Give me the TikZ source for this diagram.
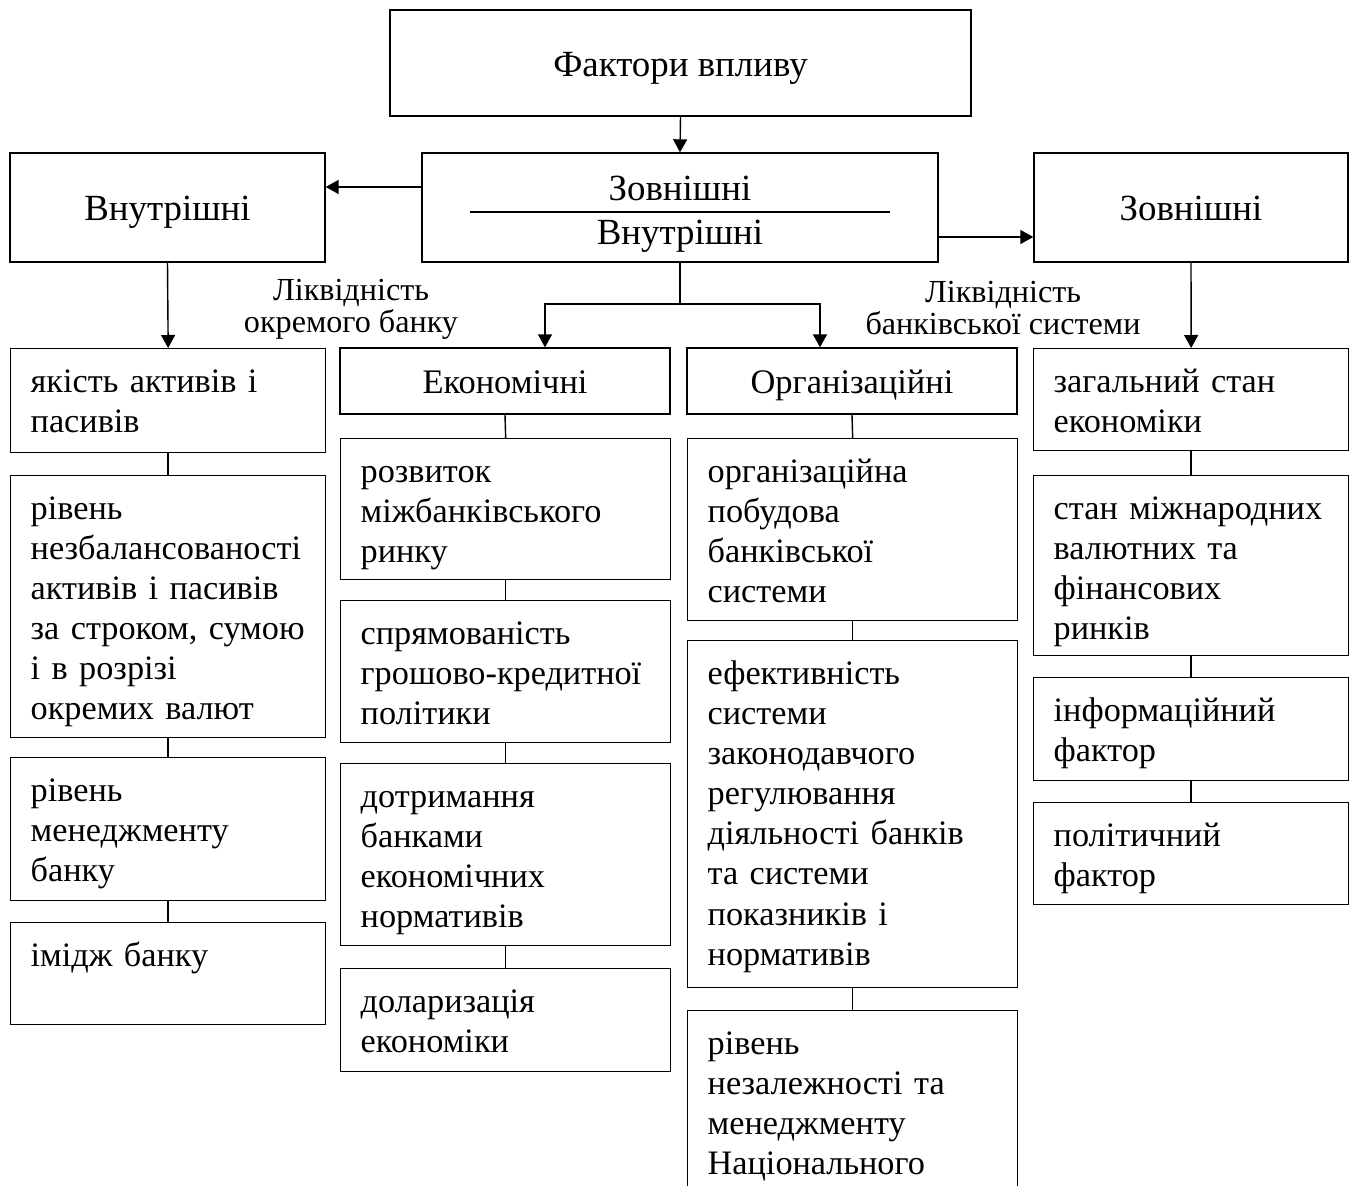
\documentclass[tikz,border=0pt]{standalone}
\usepackage{fontspec}
\setmainfont{Liberation Serif}
\usetikzlibrary{calc,arrows.meta}

\begin{document}
\begin{tikzpicture}[x=0.02cm, y=-0.02cm,
      topbox/.style={draw, line width=0.8pt, align=center,
                     font=\fontsize{21}{25}\selectfont},
      kindbox/.style={draw, line width=0.8pt, font=\fontsize{21}{25}\selectfont,
                      text height=17pt, text depth=1.8pt},
      groupbox/.style={draw, line width=0.8pt, minimum width=6.6cm, minimum height=1.32cm,
                       font=\fontsize{19.6}{22.8}\selectfont,
                       text height=16pt, text depth=1.9pt},
      itembox/.style={draw, line width=0.8pt, anchor=north west, align=left,
                      font=\fontsize{19.5}{22.8}\selectfont,
                      inner xsep=0.4cm, inner ysep=0pt, text height=0.88cm},
      lbl/.style={font=\fontsize{18.3}{18.2}\selectfont, align=center},
      arr/.style={-{Triangle[length=0.26cm, width=0.28cm]}, line width=0.8pt},
      link/.style={line width=0.8pt}]

    \path[use as bounding box] (0,0) rectangle (1357,1186);
    \clip (0,0) rectangle (1357,1186);

    % upper levels
    \node[kindbox, minimum width=11.62cm, minimum height=2.12cm] (factors) at (680.5,63)
      {Фактори впливу};
    \node[topbox, minimum width=10.32cm, minimum height=2.18cm,
          text height=43.6pt, text depth=2pt] (mid) at (680,207.5) {Зовнішні\\Внутрішні};
    \draw[link] ($(mid.center)+(-210,4.5)$) -- ($(mid.center)+(210,4.5)$);
    \node[kindbox, minimum width=6.3cm, minimum height=2.18cm] (inner) at (167.5,207.5)
      {Внутрішні};
    \node[kindbox, minimum width=6.28cm, minimum height=2.18cm] (outer) at (1191,207.5)
      {Зовнішні};

    \node[groupbox] (econ) at (505,381) {Економічні};
    \node[groupbox] (org) at (852,381) {Організаційні};

    \node[lbl] (lbank) at (351,309.5) {Ліквідність\\окремого банку};
    \node[lbl] (lsys) at (1003,308) {Ліквідність\\банківської системи};

    % column 1
    \foreach \n/\y/\d/\txt in {
        c1a/348/1.2/{якість активів і\\пасивів},
        c1b/475/4.36/{рівень\\незбалансованості\\активів~і~пасивів\\за~строком,~сумою\\і в розрізі\\окремих валют},
        c1c/757/1.98/{рівень\\менеджменту\\банку},
        c1d/922/1.16/{імідж банку}}
    {
      \node[itembox, text width=5.5cm, text depth=\d cm] (\n) at (10,\y) {\txt};
    }

    % column 2
    \foreach \n/\y/\d/\txt in {
        c2a/438/1.94/{розвиток\\міжбанківського\\ринку},
        c2b/600/1.96/{спрямованість\\грошово-кредитної\\політики},
        c2c/763/2.76/{дотримання\\банками\\економічних\\нормативів},
        c2d/968/1.18/{доларизація\\економіки}}
    {
      \node[itembox, text width=5.8cm, text depth=\d cm] (\n) at (340,\y) {\txt};
    }

    % column 3
    \foreach \n/\y/\d/\txt in {
        c3a/438/2.76/{організаційна\\побудова\\банківської\\системи},
        c3b/640/6.06/{ефективність\\системи\\законодавчого\\регулювання\\діяльності~банків\\та системи\\показників і\\нормативів},
        c3c/1010/5/{рівень\\незалежності~та\\менеджменту\\Національного}}
    {
      \node[itembox, text width=5.8cm, text depth=\d cm] (\n) at (687,\y) {\txt};
    }

    % column 4
    \foreach \n/\y/\d/\txt in {
        c4a/348/1.16/{загальний стан\\економіки},
        c4b/475/2.72/{стан~міжнародних\\валютних та\\фінансових\\ринків},
        c4c/677/1.18/{інформаційний\\фактор},
        c4d/802/1.16/{політичний\\фактор}}
    {
      \node[itembox, text width=5.5cm, text depth=\d cm] (\n) at (1033,\y) {\txt};
    }

    % arrows
    \draw[arr] (factors.south) -- (mid.north);
    \draw[arr] ([yshift=0.41cm]mid.west) -- ([yshift=0.41cm]inner.east);
    \draw[arr] ([yshift=-0.59cm]mid.east) -- ([yshift=-0.59cm]outer.west);
    \draw[arr] (inner.south) -- (c1a.north);
    \draw[arr] (outer.south) -- (c4a.north);
    \coordinate (fork) at (680,304);
    \draw[link] (mid.south) -- (fork);
    \draw[arr] (fork) -| ([xshift=0.8cm]econ.north);
    \draw[arr] (fork) -| ([xshift=-0.64cm]org.north);

    % links
    \foreach \a/\b in {c1a/c1b, c1b/c1c, c1c/c1d, econ/c2a, c2a/c2b, c2b/c2c, c2c/c2d,
                       org/c3a, c3a/c3b, c3b/c3c, c4a/c4b, c4b/c4c, c4c/c4d}
      \draw[link] (\a.south) -- (\b.north);
\end{tikzpicture}
\end{document}
